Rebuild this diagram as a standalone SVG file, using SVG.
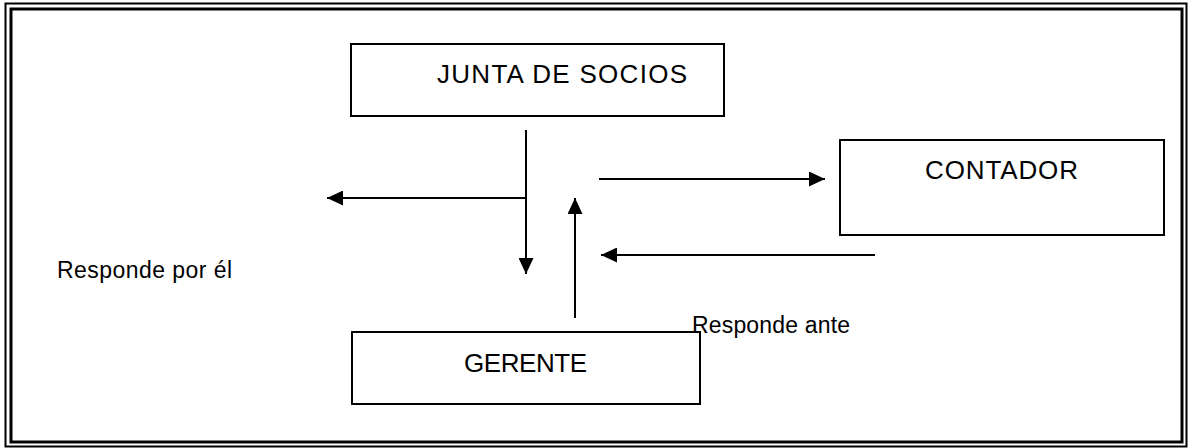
<svg xmlns="http://www.w3.org/2000/svg" width="1189" height="448" viewBox="0 0 1189 448">
<style>
.box{fill:#fff;stroke:#000;stroke-width:2}
.lbl{font-family:"Liberation Sans",Arial,sans-serif;font-size:26px;fill:#000}
.note{font-family:"Liberation Sans",Arial,sans-serif;font-size:23px;fill:#000}
.conn{fill:none;stroke:#000;stroke-width:2}
</style>
<defs>
<marker id="ah" markerUnits="userSpaceOnUse" markerWidth="16" markerHeight="15" refX="16" refY="7.5" orient="auto">
<path d="M0,0 L16,7.5 L0,15 Z" fill="#000"/>
</marker>
</defs>
<rect width="1189" height="448" fill="#fff"/>
<g id="frame">
<rect x="5.5" y="3.5" width="1181" height="443" fill="none" stroke="#000" stroke-width="2"/>
<rect x="11" y="9" width="1171" height="433" fill="none" stroke="#000" stroke-width="3"/>
</g>
<g id="junta">
<rect class="box" x="351" y="44" width="373" height="72"/>
<text class="lbl" x="437" y="83" textLength="250" lengthAdjust="spacing">JUNTA DE SOCIOS</text>
</g>
<g id="contador">
<rect class="box" x="840" y="140" width="324" height="95"/>
<text class="lbl" x="925" y="179" textLength="153" lengthAdjust="spacing">CONTADOR</text>
</g>
<g id="gerente">
<rect class="box" x="352" y="332" width="348" height="72"/>
<text class="lbl" x="464" y="372" textLength="123" lengthAdjust="spacing">GERENTE</text>
</g>
<g id="connectors">
<path class="conn" d="M526,130 V274" marker-end="url(#ah)"/>
<path class="conn" d="M526,198 H327" marker-end="url(#ah)"/>
<path class="conn" d="M575,318 V198" marker-end="url(#ah)"/>
<path class="conn" d="M599,179 H825" marker-end="url(#ah)"/>
<path class="conn" d="M875,255 H601" marker-end="url(#ah)"/>
</g>
<g id="labels">
<text class="note" x="57" y="278" textLength="175" lengthAdjust="spacing">Responde por él</text>
<text class="note" x="692" y="333" textLength="158" lengthAdjust="spacing">Responde ante</text>
</g>
</svg>
